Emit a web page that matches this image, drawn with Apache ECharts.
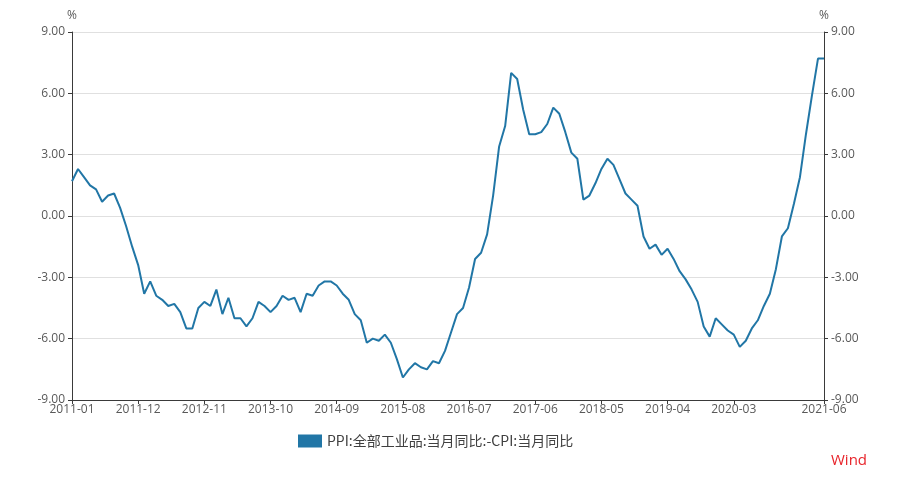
<!DOCTYPE html>
<html>
<head>
<meta charset="utf-8">
<script src="https://cdn.jsdelivr.net/npm/echarts@6/dist/echarts.min.js"></script>
<style>
html,body{margin:0;padding:0;background:#fff;}
#c{width:897px;height:480px;}
</style>
</head>
<body>
<div id="c"></div>
<script>
// Monthly categories 2011-01 .. 2021-06
const categories = [];
for (let y = 2011; y <= 2021; y++) {
  for (let m = 1; m <= 12; m++) {
    if (y === 2021 && m > 6) break;
    categories.push(y + '-' + (m < 10 ? '0' + m : m));
  }
}
const seriesName = 'PPI:全部工业品:当月同比:-CPI:当月同比';
const values = [
  1.7, 2.3, 1.9, 1.5, 1.3, 0.7, 1.0, 1.1, 0.4, -0.5, -1.5, -2.4,
  -3.8, -3.2, -3.9, -4.1, -4.4, -4.3, -4.7, -5.5, -5.5, -4.5, -4.2, -4.4,
  -3.6, -4.8, -4.0, -5.0, -5.0, -5.4, -5.0, -4.2, -4.4, -4.7, -4.4, -3.9,
  -4.1, -4.0, -4.7, -3.8, -3.9, -3.4, -3.2, -3.2, -3.4, -3.8, -4.1, -4.8,
  -5.1, -6.2, -6.0, -6.1, -5.8, -6.2, -7.0, -7.9, -7.5, -7.2, -7.4, -7.5,
  -7.1, -7.2, -6.6, -5.7, -4.8, -4.5, -3.5, -2.1, -1.8, -0.9, 1.0, 3.4,
  4.4, 7.0, 6.7, 5.2, 4.0, 4.0, 4.1, 4.5, 5.3, 5.0, 4.1, 3.1,
  2.8, 0.8, 1.0, 1.6, 2.3, 2.8, 2.5, 1.8, 1.1, 0.8, 0.5, -1.0,
  -1.6, -1.4, -1.9, -1.6, -2.1, -2.7, -3.1, -3.6, -4.2, -5.4, -5.9, -5.0,
  -5.3, -5.6, -5.8, -6.4, -6.1, -5.5, -5.1, -4.4, -3.8, -2.6, -1.0, -0.6,
  0.6, 1.9, 4.0, 5.9, 7.7, 7.7
];
const yMin = -9, yMax = 9, yStep = 3;

const lineColor = '#2176a6';
const labelColor = '#595959';
const axisColor = '#3a3a3a';
const numFont = 'Open Sans, Noto Sans CJK SC, sans-serif';
const lastIdx = categories.length - 1;
const showIdx = (i) => (i % 11 === 0 && i <= lastIdx - 5) || i === lastIdx;

function yAxisCfg(pos) {
  return {
    type: 'value', position: pos, min: yMin, max: yMax, interval: yStep,
    name: '%', nameLocation: 'end', nameGap: 10,
    nameTextStyle: { color: labelColor, fontSize: 12, fontFamily: numFont, align: 'center' },
    axisLine: { show: true, lineStyle: { color: axisColor, width: 1 } },
    axisTick: { show: true, length: 4, lineStyle: { color: axisColor } },
    axisLabel: { color: labelColor, fontSize: 12, fontFamily: numFont, margin: 7,
      formatter: v => v.toFixed(2) },
    splitLine: { show: pos === 'left', lineStyle: { color: '#e0e0e0', width: 1 } }
  };
}

const chart = echarts.init(document.getElementById('c'), null, { renderer: 'canvas' });
chart.setOption({
  animation: false,
  backgroundColor: '#ffffff',
  grid: { left: 72, right: 73, top: 32, bottom: 80, containLabel: false },
  legend: {
    data: [seriesName], top: 429, left: 293,
    itemWidth: 24, itemHeight: 13, itemGap: 10,
    icon: 'rect',
    textStyle: { color: '#404040', fontSize: 14, fontFamily: 'Noto Sans CJK SC, sans-serif' }
  },
  graphic: [{
    type: 'text', left: 831, top: 453,
    style: { text: 'Wind', fill: '#e8232a', fontSize: 15, fontFamily: 'Open Sans, sans-serif' }
  }],
  xAxis: {
    type: 'category', data: categories, boundaryGap: false,
    axisLine: { show: true, onZero: false, lineStyle: { color: axisColor } },
    axisTick: { show: true, length: 4, interval: showIdx, lineStyle: { color: axisColor } },
    axisLabel: { interval: showIdx, color: labelColor, fontSize: 12, fontFamily: numFont, margin: 4 },
    splitLine: { show: false }
  },
  yAxis: [yAxisCfg('left'), yAxisCfg('right')],
  series: [{
    name: seriesName, type: 'line', data: values,
    showSymbol: false, symbol: 'none',
    lineStyle: { color: lineColor, width: 2 },
    itemStyle: { color: lineColor }
  }]
});
</script>
</body>
</html>
